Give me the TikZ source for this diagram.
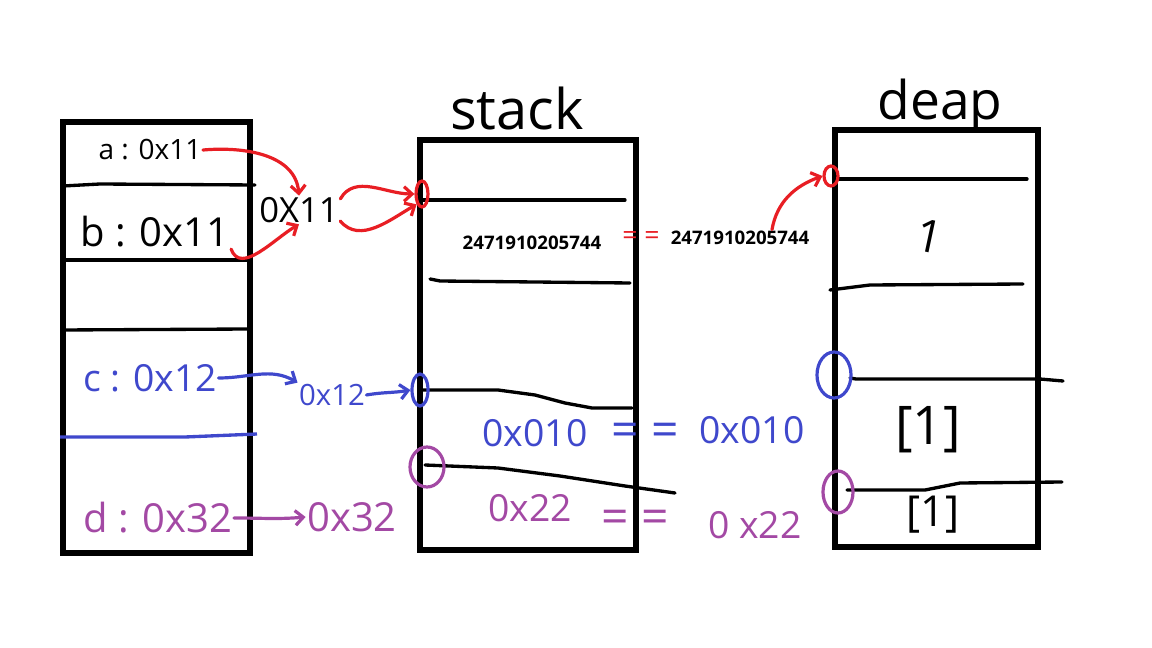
\documentclass[tikz,border=0pt]{standalone}
\usepackage{fontspec}
\setmainfont{Open Sans}
\definecolor{InkRed}{RGB}{232,30,36}
\definecolor{InkBlue}{RGB}{63,72,204}
\definecolor{InkPurple}{RGB}{163,73,164}
\usepackage{tikz}
\usetikzlibrary{
  positioning,
  arrows.meta,
  shapes.geometric
}
\tikzset{
  % memory block outline
  mem/.style={draw=black, line width=3.9pt},
  % slot divider
  slot/.style={draw=black, line width=2.5pt, line cap=round, line join=round},
  % hand written text
  hand/.style={font=\fontsize{#1}{#1}\selectfont, inner sep=1pt},
  % printed value
  num/.style={font=\fontsize{14}{15}\selectfont\bfseries, inner sep=1pt},
  % rings round an address
  rring/.style={ellipse, draw=InkRed, line width=2.4pt, inner sep=0pt},
  bring/.style={ellipse, draw=InkBlue, line width=2.4pt, inner sep=0pt},
  pring/.style={ellipse, draw=InkPurple, line width=2.4pt, inner sep=0pt},
  % pointer arrows
  redge/.style={draw=InkRed, line width=2.4pt, line cap=round,
    -{Straight Barb[length=6pt,width=11pt]}},
  bedge/.style={draw=InkBlue, line width=2.4pt, line cap=round,
    -{Straight Barb[length=6pt,width=11pt]}},
  pedge/.style={draw=InkPurple, line width=2.4pt, line cap=round,
    -{Straight Barb[length=6pt,width=11pt]}}
}

\begin{document}
\begin{tikzpicture}[x=0.75pt,y=-0.75pt]
  \useasboundingbox (0,0) rectangle (1152,648);

  % the three blocks
  \draw[mem] (63,122) rectangle (250,553);
  \draw[mem] (420,140) rectangle (636,550);
  \draw[mem] (835,130) rectangle (1038,547);

  \node[hand=42, anchor=base] (stackT) at (517,130) {stack};
  \node[hand=40, anchor=base] (heapT) at (940,120) {deap};

  % dividers
  \draw[slot] (63,186) -- (100,184) -- (255,185);
  \draw[slot] (63,260) -- (248,260);
  \draw[slot] (62,330) -- (248,329);
  \draw[InkBlue, line width=2.5pt] (60,437) -- (185,437) -- (257,434);

  \draw[slot] (420,200) -- (625,200);
  \draw[slot] (430,279) -- (440,281) -- (630,283);
  \draw[slot] (422,390) -- (498,390) -- (535,395) -- (565,403) -- (592,408) -- (632,408);
  \draw[slot] (425,465) -- (498,468) -- (560,476) -- (625,486) -- (675,493);

  \draw[slot] (838,179) -- (1027,179);
  \draw[slot] (830,290) -- (870,285) -- (1023,284);
  \draw[slot] (850,378) -- (856,379) -- (1040,379) -- (1063,381);
  \draw[slot] (847,490) -- (925,490) -- (960,483) -- (1062,482);

  % variables
  \node[hand=21] (aval) at (150,150) {a : 0x11};
  \node[hand=30] (bval) at (155,232) {b : 0x11};
  \node[hand=28, text=InkBlue] (cval) at (150,378) {c : 0x12};
  \node[hand=30, text=InkPurple] (dval) at (158,518) {d : 0x32};

  \node[hand=26] (addr) at (299,210) {0X11};
  \node[hand=22, text=InkBlue] (caddr) at (332,395) {0x12};
  \node[hand=30, text=InkPurple] (daddr) at (352,517) {0x32};

  % stack contents
  \node[num] (num1) at (532,243) {2471910205744};
  \node[num] (num2) at (740,238) {2471910205744};
  \node[hand=20, text=InkRed] (eqR) at (641,238) {= =};

  \node[hand=28, text=InkBlue] (cstk) at (535,433) {0x010};
  \node[hand=36, text=InkBlue] (eqB) at (645,435) {= =};
  \node[hand=28, text=InkBlue] (cheap) at (752,430) {0x010};

  \node[hand=28, text=InkPurple] (dstk) at (530,508) {0x22};
  \node[hand=36, text=InkPurple] (eqP) at (635,522) {= =};
  \node[hand=28, text=InkPurple] (dheap) at (755,525) {0 x22};

  % heap contents
  \node[hand=34, rotate=-12] (h1) at (930,236) {1};
  \node[hand=40] (h2) at (928,430) {[1]};
  \node[hand=32] (h3) at (933,515) {[1]};

  % rings
  \node[rring, minimum width=9pt, minimum height=19.5pt] (ringSr) at (422,194) {};
  \node[rring, minimum width=10.5pt, minimum height=15pt] (ringHr) at (831,176) {};
  \node[bring, minimum width=12pt, minimum height=24pt] (ringSb) at (420,390) {};
  \node[pring, minimum width=25.5pt, minimum height=30pt] (ringSp) at (427,467) {};
  \node[bring, minimum width=25.5pt, minimum height=34.5pt] (ringHb) at (834,375) {};
  \node[pring, minimum width=22.5pt, minimum height=31.5pt] (ringHp) at (838,492) {};

  % pointers
  \draw[redge] (aval.east) to[out=5,in=95] (addr.north);
  \draw[redge] (bval.south east) to[out=-70,in=210] (addr.south);
  \draw[redge] (addr.15) to[out=60,in=180] (ringSr.west);
  \draw[redge] (addr.-15) to[out=-50,in=210] (ringSr.south west);
  \draw[redge] ([xshift=24pt]num2.north) to[out=80,in=200] (ringHr.west);

  \draw[bedge] (cval.east) to[out=0,in=150] (caddr.north west);
  \draw[bedge] (caddr.east) to[out=10,in=190] (ringSb.west);
  \draw[pedge] (dval.east) to[out=0,in=185] (daddr.west);
\end{tikzpicture}
\end{document}
